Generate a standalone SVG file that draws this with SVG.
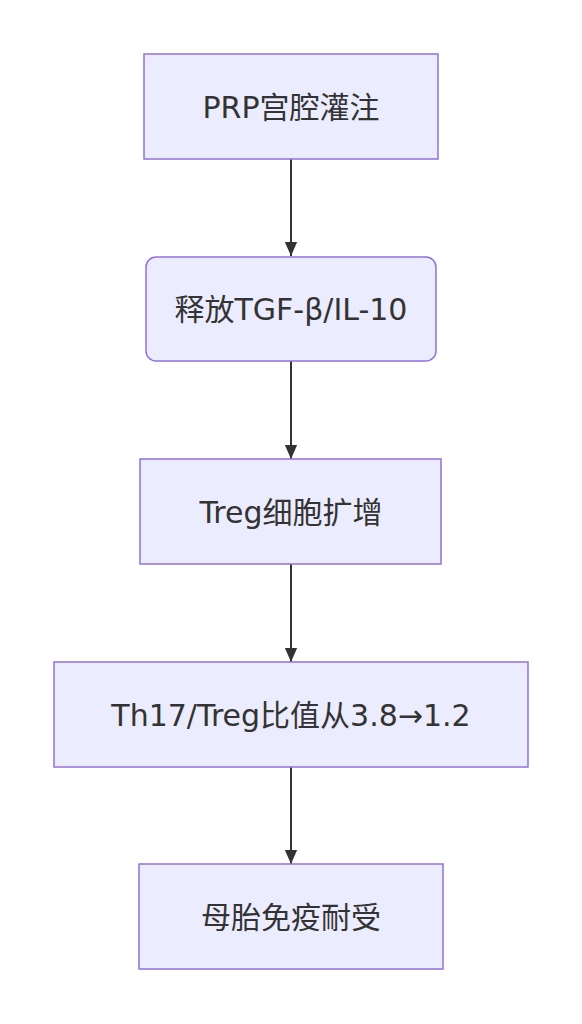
<svg xmlns="http://www.w3.org/2000/svg" width="582" height="1024" viewBox="0 0 582 1024">
<style>
.node rect{fill:#ECECFF;stroke:#9370DB;stroke-width:1.5px}
.node text{font-family:"DejaVu Sans","Noto Sans CJK SC",sans-serif;font-size:30px;fill:#333;text-anchor:middle;dominant-baseline:central}
.edge{stroke:#333;stroke-width:2px;fill:none}
</style>
<defs>
<marker id="arrow" viewBox="0 0 16 14" refX="16" refY="7" markerWidth="14" markerHeight="15" markerUnits="userSpaceOnUse" orient="auto">
<path d="M0,0 L16,7 L0,14 z" fill="#333"/>
</marker>
</defs>
<rect width="582" height="1024" fill="#fff"/>
<g id="connectors">
<path class="edge" d="M291,159 L291,256" marker-end="url(#arrow)"/>
<path class="edge" d="M291,361 L291,459" marker-end="url(#arrow)"/>
<path class="edge" d="M291,564 L291,662" marker-end="url(#arrow)"/>
<path class="edge" d="M291,767 L291,864" marker-end="url(#arrow)"/>
</g>
<g id="n1" class="node"><rect x="144" y="54" width="294" height="105"/><text x="291" y="107">PRP宫腔灌注</text></g>
<g id="n2" class="node"><rect x="146" y="257" width="290" height="104" rx="10" ry="10"/><text x="291" y="309">释放TGF-β/IL-10</text></g>
<g id="n3" class="node"><rect x="140" y="459" width="301" height="105"/><text x="291" y="512">Treg细胞扩增</text></g>
<g id="n4" class="node"><rect x="54" y="662" width="474" height="105"/><text x="291" y="715">Th17/Treg比值从3.8→1.2</text></g>
<g id="n5" class="node"><rect x="139" y="864" width="304" height="105"/><text x="291" y="917">母胎免疫耐受</text></g>
</svg>
